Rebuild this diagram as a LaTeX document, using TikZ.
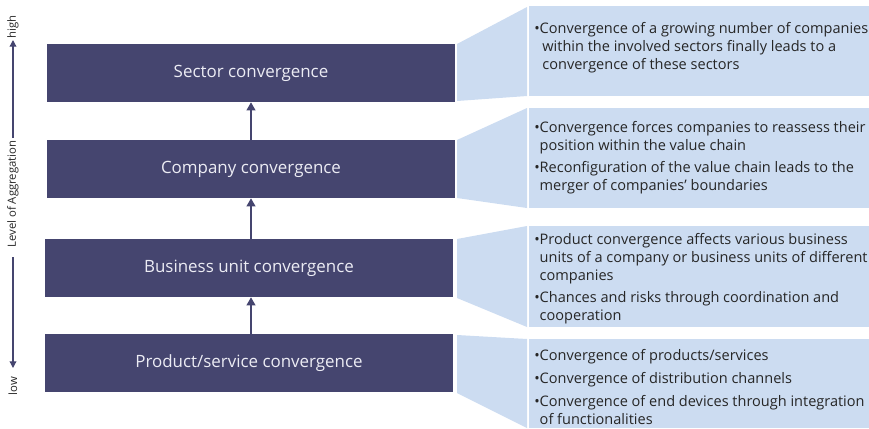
\documentclass[tikz,border=0pt]{standalone}
\usepackage{fontspec}
\setmainfont{Open Sans}
\usetikzlibrary{arrows.meta,calc}
\definecolor{dark}{HTML}{45456F}
\definecolor{pale}{HTML}{CCDCF1}
\definecolor{boxtxt}{HTML}{ECECF4}
\definecolor{bodytxt}{HTML}{262626}
\newcommand{\bl}{\textbullet}
\begin{document}
\begin{tikzpicture}[x=0.75pt,y=-0.75pt,
  darkbox/.style={fill=dark,draw=none,minimum width=306pt,minimum height=43.5pt,inner sep=0pt,
    text=boxtxt,font=\fontsize{12.7}{15}\selectfont},
  wedge/.style={fill=pale,draw=none},
  paneltxt/.style={anchor=north west,inner sep=0pt,text=bodytxt,align=left,
    font=\fontsize{10.9}{13.5}\selectfont},
  uparrow/.style={draw=dark,line width=1.2pt,-{Triangle[length=6pt,width=6.5pt]}},
  axisarrow/.style={draw=dark,line width=0.9pt,-{Triangle[length=5pt,width=5pt]}},
  axistxt/.style={rotate=90,inner sep=0pt,text=bodytxt,font=\fontsize{8.5}{10}\selectfont}]
\useasboundingbox (0,0) rectangle (869,429);
% dark boxes
\node[darkbox] (b1) at (251,73) {Sector convergence};
\node[darkbox] (b2) at (251,169) {Company convergence};
\node[darkbox] (b3) at (249,268) {Business unit convergence};
\node[darkbox] (b4) at (249,363) {Product/service convergence};
% arrows
\draw[uparrow] (b2.north) -- (b1.south);
\draw[uparrow] (b3.north -| b2.north) -- (b2.south);
\draw[uparrow] (b4.north -| b2.north) -- (b3.south -| b2.north);
% wedges
\fill[wedge] (457,44) -- (527,7) -- (527,96) -- (457,101) -- cycle;
\fill[wedge] (457,140) -- (527,108) -- (527,208) -- (457,198) -- cycle;
\fill[wedge] (457,239) -- (527,226) -- (527,327) -- (457,298) -- cycle;
\fill[wedge] (457,335) -- (527,339) -- (527,428) -- (457,393) -- cycle;
% panels
\fill[wedge] (529,6) rectangle (869,96);
\fill[wedge] (529,108) rectangle (869,208);
\fill[wedge] (529,226) rectangle (869,327);
\fill[wedge] (529,339) rectangle (869,428);
% panel texts
\node[paneltxt] (t1) at (534,21) {\begin{tabular}{@{}l@{}l@{}}
\bl&Convergence of a growing number of companies\\
&\hspace{2pt}within the involved sectors finally leads to a\\
&\hspace{2pt}convergence of these sectors\end{tabular}};
\node[paneltxt] (t2) at (534,120) {\begin{tabular}{@{}l@{}l@{}}
\bl&Convergence forces companies to reassess their\\
&position within the value chain\\[2.5pt]
\bl&Reconfiguration of the value chain leads to the\\
&merger of companies’ boundaries\end{tabular}};
\node[paneltxt] (t3) at (534,232) {\begin{tabular}{@{}l@{}l@{}}
\bl&Product convergence affects various business\\
&units of a company or business units of different\\
&companies\\[2.5pt]
\bl&Chances and risks through coordination and\\
&cooperation\end{tabular}};
\node[paneltxt] (t4) at (534,348) {\begin{tabular}{@{}l@{}l@{}}
\bl&Convergence of products/services\\[3.5pt]
\bl&Convergence of distribution channels\\[3.5pt]
\bl&Convergence of end devices through integration\\
&of functionalities\end{tabular}};
% axis
\node[axistxt] (high) at (13,27) {high};
\node[axistxt] (lvl) at (13,194) {Level of Aggregation};
\node[axistxt] (low) at (13,386) {low};
\coordinate (ahi) at (13,40);
\coordinate (alo) at (13,368);
\draw[axisarrow] (13,138) -- (ahi);
\draw[axisarrow] (13,257) -- (alo);
\end{tikzpicture}
\end{document}
